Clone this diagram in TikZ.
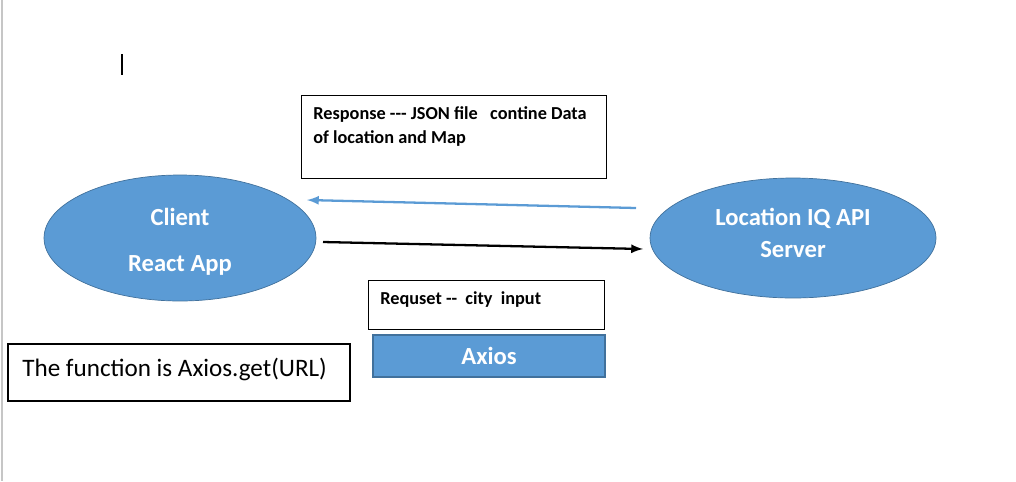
\documentclass[tikz,border=0pt]{standalone}
\usepackage{fontspec}
\setmainfont{Carlito}
\usepackage{xcolor}
\usetikzlibrary{positioning,shapes.geometric}
\definecolor{officeblue}{HTML}{5B9BD5}
\definecolor{officeedge}{HTML}{41719C}

\begin{document}
\begin{tikzpicture}[x=0.02cm, y=-0.02cm]
\useasboundingbox (0,0) rectangle (1016,481);
\draw[gray!45, line width=1pt] (2,0) -- (2,481);
\draw[line width=0.6pt] (122,54) -- (122,75);

\node[draw, ellipse, fill=officeblue, draw=officeedge, minimum width=5.44cm, minimum height=2.52cm, inner sep=0pt] (client) at (180,238) {};
\node[text=white, font=\bfseries\fontsize{14}{16}\selectfont] (clientname) at (180,217) {Client};
\node[text=white, font=\bfseries\fontsize{14}{16}\selectfont] (clientapp) at (180,265) {React App};
\node[draw, ellipse, fill=officeblue, draw=officeedge, minimum width=5.72cm, minimum height=2.4cm, inner sep=0pt] (server) at (793,238) {};
\node[text=white, font=\bfseries\fontsize{14}{16}\selectfont] (servername) at (793,218) {Location IQ API};
\node[text=white, font=\bfseries\fontsize{14}{16}\selectfont] (serverrole) at (793,250) {Server};

\node[draw, rectangle, minimum width=6.1cm, minimum height=1.66cm, inner sep=0pt] (response) at (453.5,136.5) {};
\node[anchor=north west, align=left, font=\bfseries\fontsize{10.4}{13.6}\selectfont, inner sep=0pt] (responsetext) at (313,106) {Response -{}-{}- JSON file \ \ contine Data\\of location and Map};

\node[draw, rectangle, minimum width=4.72cm, minimum height=0.98cm, inner sep=0pt] (request) at (486,304.5) {};
\node[anchor=west, font=\bfseries\fontsize{10.4}{12}\selectfont, inner sep=0pt] (requesttext) at (380,299.5) {Requset -{}- \ city \ input};

\node[draw=officeedge, fill=officeblue, rectangle, line width=1pt, minimum width=4.64cm, minimum height=0.84cm, inner sep=0pt, text=white, font=\bfseries\fontsize{14}{16}\selectfont] (axios) at (489,356) {Axios};

\node[draw, rectangle, line width=1.2pt, minimum width=6.84cm, minimum height=1.14cm, inner sep=0pt] (function) at (179,372.5) {};
\node[anchor=west, font=\fontsize{14.3}{16}\selectfont, inner sep=0pt] (functiontext) at (22,369) {The function is Axios.get(URL)};

\coordinate (respfrom) at (636,208);
\coordinate (respto) at (307,200);
\coordinate (reqfrom) at (323,242);
\coordinate (reqto) at (643,249);

\draw[-latex, officeblue, line width=1.3pt] (respfrom) -- (respto);
\draw[-latex, line width=1.3pt] (reqfrom) -- (reqto);
\end{tikzpicture}
\end{document}
